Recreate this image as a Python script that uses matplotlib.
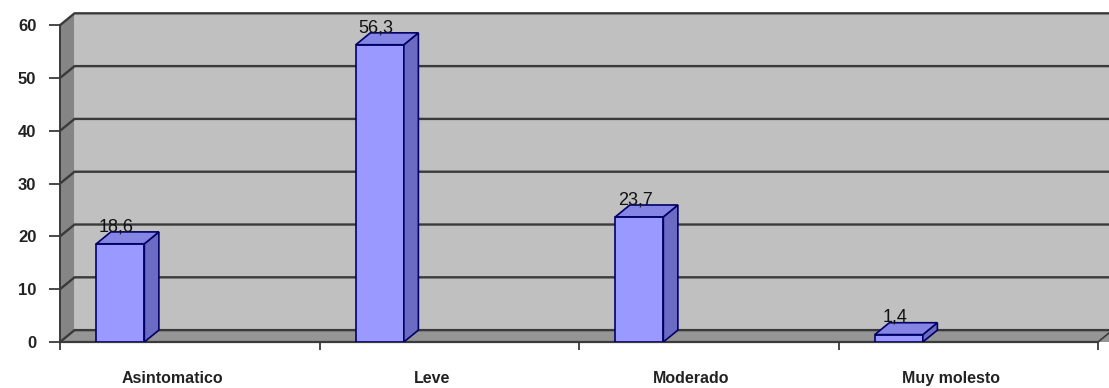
import matplotlib
matplotlib.use('Agg')
import matplotlib.pyplot as plt
from matplotlib.patches import Polygon

# Data
categories = ['Asintomatico', 'Leve', 'Moderado', 'Muy molesto']
values = [18.6, 56.3, 23.7, 1.4]
yticks = [0, 10, 20, 30, 40, 50, 60]

plt.rcParams['font.family'] = ['Liberation Sans', 'DejaVu Sans']

fig = plt.figure(figsize=(11.09, 3.88), dpi=100)
ax = fig.add_axes([60 / 1109, 46 / 388, 1038 / 1109, 337 / 388])
ax.set_xlim(0, 4)
ax.set_ylim(0, 337 / 5.28)

# pseudo 3D depth (data units)
dx, dy = 0.056, 2.25
ymax = 60
grid_col = '#3a3a3a'

# walls and floor
ax.add_patch(Polygon([(dx, dy), (4 + dx + 0.2, dy), (4 + dx + 0.2, ymax + dy), (dx, ymax + dy)],
                     closed=True, fc='#c0c0c0', ec='none', zorder=0, clip_on=False))
ax.add_patch(Polygon([(0, 0), (dx, dy), (dx, ymax + dy), (0, ymax)],
                     closed=True, fc='#858585', ec='none', zorder=0.5, clip_on=False))
ax.add_patch(Polygon([(0, 0), (4, 0), (4 + dx, dy), (dx, dy)],
                     closed=True, fc='#959595', ec='none', zorder=0.5, clip_on=False))
# floor right edge continues past the plot
ax.add_patch(Polygon([(4, 0), (4 + dx + 0.2, 0), (4 + dx + 0.2, dy), (4 + dx, dy)],
                     closed=True, fc='#959595', ec='none', zorder=0.5, clip_on=False))

# gridlines on back and left wall
for v in yticks:
    ax.plot([0, dx, 4 + dx + 0.2], [v, v + dy, v + dy], color=grid_col, lw=1.7,
            zorder=1, clip_on=False, solid_capstyle='butt')
ax.plot([0, 0], [0, ymax], color=grid_col, lw=1.4, zorder=1, clip_on=False)
ax.plot([0, 4], [0, 0], color=grid_col, lw=1.6, zorder=1, clip_on=False)
ax.plot([4, 4 + dx], [0, dy], color=grid_col, lw=1.2, zorder=1, clip_on=False)

# bars
off, w = 0.14, 0.185
xs = [i + off for i in range(len(values))]
ax.bar(xs, values, width=w, align='edge', color='#9999ff', edgecolor='#000066',
       linewidth=1.2, zorder=3)
for x0, v in zip(xs, values):
    side = [(x0 + w, 0), (x0 + w + dx, dy), (x0 + w + dx, v + dy), (x0 + w, v)]
    top = [(x0, v), (x0 + w, v), (x0 + w + dx, v + dy), (x0 + dx, v + dy)]
    ax.add_patch(Polygon(side, closed=True, fc='#6b6bc4', ec='#000066', lw=1.2, zorder=3))
    ax.add_patch(Polygon(top, closed=True, fc='#8585e6', ec='#000066', lw=1.2, zorder=3))
    ax.text(x0 + w / 2 - 0.015, v + dy - 0.6, f'{v:.1f}'.replace('.', ','),
            ha='center', va='bottom', fontsize=13, color='#111111', zorder=4)

for s in ax.spines.values():
    s.set_visible(False)

ax.set_yticks(yticks)
ax.set_yticklabels([str(t) for t in yticks], fontsize=12, fontweight='bold', color='#222222')
ax.tick_params(axis='y', direction='out', length=8, width=1.3, color=grid_col, pad=9)

ax.set_xticks([0, 1, 2, 3, 4])
ax.set_xticklabels([])
ax.tick_params(axis='x', which='major', direction='out', length=6, width=1.3, color=grid_col)
ax.set_xticks([i + 0.5 - 0.066 for i in range(len(categories))], minor=True)
ax.set_xticklabels(categories, minor=True, fontsize=11.5, fontweight='bold', color='#222222')
ax.tick_params(axis='x', which='minor', length=0, pad=21)

fig.savefig('out.png', dpi=100)
